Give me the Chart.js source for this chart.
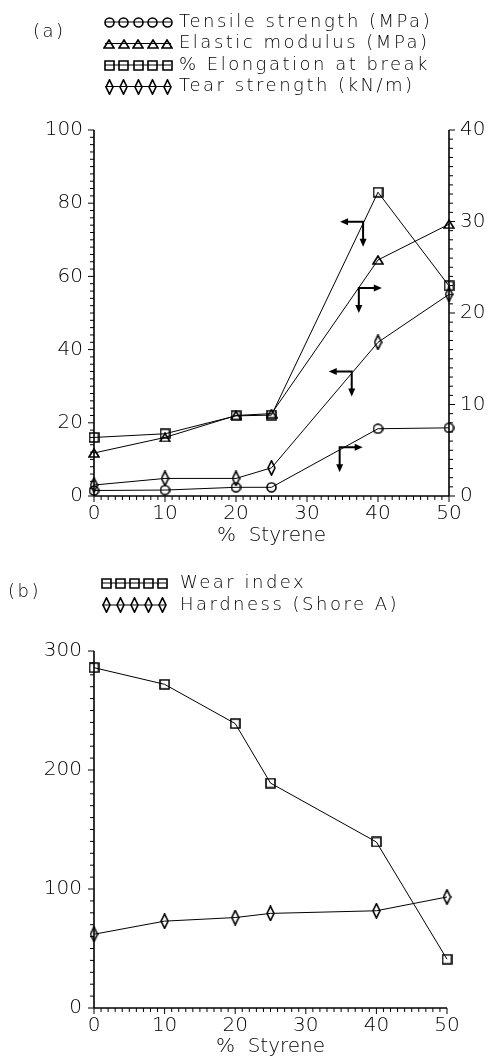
<!DOCTYPE html>
<html>
<head>
<meta charset="utf-8">
<script src="https://cdn.jsdelivr.net/npm/chart.js@4/dist/chart.umd.min.js"></script>
<style>
  html, body { margin: 0; padding: 0; background: #fff; }
  #wrap { position: relative; width: 487px; height: 1057px; }
  canvas { position: absolute; left: 0; }
  #chartA { top: 0; }
  #chartB { top: 546px; }
</style>
</head>
<body>
<div id="wrap">
  <canvas id="chartA" width="487" height="546"></canvas>
  <canvas id="chartB" width="487" height="511"></canvas>
</div>
<script>
// values
const styrene = [0, 10, 20, 25, 40, 50];
const tensileStrength = [0.6, 0.65, 0.95, 0.95, 7.35, 7.45];   // right axis
const elasticModulus = [4.7, 6.4, 8.8, 9.0, 25.8, 29.7];       // right axis
const elongationAtBreak = [16.0, 17.0, 21.9, 22.1, 83.0, 57.4]; // left axis
const tearStrength = [3.0, 4.8, 4.8, 7.7, 42.0, 55.1];          // left axis
const wearIndex = [286, 272, 239, 189, 139.5, 41];
const hardness = [62, 73, 76, 79.5, 81.7, 93.3];

const xTicks = [0, 10, 20, 30, 40, 50];
const leftTicksA = [0, 20, 40, 60, 80, 100];
const rightTicksA = [0, 10, 20, 30, 40];
const leftTicksB = [0, 100, 200, 300];

const INK = '#000';
Chart.defaults.font.family = "'DejaVu Sans', sans-serif";
Chart.defaults.font.size = 20;
Chart.defaults.font.weight = 300;
Chart.defaults.color = INK;

// open markers, line shows through them
function makeMarker(kind) {
  let w = 11, h = 11;
  if (kind === 'diamond') { w = 9; h = 16; }
  if (kind === 'triangle') { w = 12; h = 10; }
  const c = document.createElement('canvas');
  c.width = w; c.height = h;
  const g = c.getContext('2d');
  g.strokeStyle = INK;
  g.lineWidth = 1.6;
  g.beginPath();
  if (kind === 'circle') g.arc(w / 2, h / 2, w / 2 - 1, 0, Math.PI * 2);
  else if (kind === 'square') g.rect(1, 1, w - 2, h - 2);
  else if (kind === 'triangle') { g.moveTo(w / 2, 1); g.lineTo(w - 1, h - 1); g.lineTo(1, h - 1); g.closePath(); }
  else { g.moveTo(w / 2, 0.8); g.lineTo(w - 1, h / 2); g.lineTo(w / 2, h - 0.8); g.lineTo(1, h / 2); g.closePath(); }
  g.stroke();
  return c;
}
const mk = {};
['circle', 'triangle', 'square', 'diamond'].forEach(k => { mk[k] = makeMarker(k); });

function series(label, values, axis, kind) {
  return {
    label: label,
    yAxisID: axis,
    data: styrene.map((x, i) => ({ x: x, y: values[i] })),
    borderColor: INK,
    borderWidth: 1,
    pointStyle: mk[kind],
    pointRadius: 6,
    tension: 0,
    fill: false,
    clip: false
  };
}

function fixedTicks(list) {
  return s => { s.ticks = list.map(v => ({ value: v })); };
}

// legend: a line with five markers, then the label
const symLegend = {
  id: 'symLegend',
  afterDraw(chart, args, o) {
    const ctx = chart.ctx;
    ctx.save();
    ctx.font = '300 18px "DejaVu Sans"';
    ctx.letterSpacing = '2.5px';
    ctx.fillStyle = INK;
    ctx.strokeStyle = INK;
    ctx.lineWidth = 1;
    ctx.textBaseline = 'middle';
    ctx.fillText(o.tag, o.tagX, o.tagY);
    o.items.forEach((it, i) => {
      const y = o.y0 + i * o.dy;
      ctx.beginPath();
      ctx.moveTo(o.x0, y);
      ctx.lineTo(o.x1, y);
      ctx.stroke();
      const img = mk[it.kind];
      for (let k = 0; k < 5; k++) {
        const mx = o.x0 + 4 + k * (o.x1 - o.x0 - 8) / 4;
        ctx.drawImage(img, Math.round(mx - img.width / 2), Math.round(y - img.height / 2));
      }
      ctx.fillText(it.label, o.textX, y);
    });
    ctx.restore();
  }
};

// axis lines with outward major/minor ticks
const frame = {
  id: 'frame',
  afterDraw(chart, args, o) {
    const ctx = chart.ctx, a = chart.chartArea;
    ctx.save();
    ctx.strokeStyle = INK;
    o.axes.forEach(ax => {
      const sc = chart.scales[ax.id];
      ctx.lineWidth = 1.6;
      ctx.beginPath();
      if (ax.side === 'bottom') {
        ctx.moveTo(a.left, a.bottom); ctx.lineTo(a.right, a.bottom);
      } else {
        const x = ax.side === 'left' ? a.left : a.right;
        ctx.moveTo(x, a.bottom); ctx.lineTo(x, sc.getPixelForValue(sc.max));
      }
      ctx.stroke();
      ctx.lineWidth = 1;
      for (let v = sc.min; v <= sc.max + 1e-9; v += ax.minor) {
        const q = v / ax.major;
        const len = Math.abs(q - Math.round(q)) < 1e-6 ? 6 : 4;
        const p = sc.getPixelForValue(v);
        ctx.beginPath();
        if (ax.side === 'bottom') { ctx.moveTo(p, a.bottom); ctx.lineTo(p, a.bottom + len); }
        else if (ax.side === 'left') { ctx.moveTo(a.left, p); ctx.lineTo(a.left - len, p); }
        else { ctx.moveTo(a.right, p); ctx.lineTo(a.right + len, p); }
        ctx.stroke();
      }
    });
    ctx.restore();
  }
};

// axis-pointer arrows (in styrene / left-axis units)
const arrowNotes = [
  { x: 37.9, y: 74.9, side: 'left' },
  { x: 37.3, y: 56.8, side: 'right' },
  { x: 36.3, y: 34.0, side: 'left' },
  { x: 34.6, y: 13.3, side: 'right' }
];
function arrowHead(ctx, x, y, dx, dy) {
  const L = 8, W = 3.5;
  ctx.beginPath();
  ctx.moveTo(x, y);
  ctx.lineTo(x - dx * L - dy * W, y - dy * L + dx * W);
  ctx.lineTo(x - dx * L + dy * W, y - dy * L - dx * W);
  ctx.closePath();
  ctx.fill();
}
const arrows = {
  id: 'arrows',
  afterDraw(chart, args, o) {
    if (!o.notes) return;
    const ctx = chart.ctx, xs = chart.scales.x, ys = chart.scales[o.axis];
    ctx.save();
    ctx.strokeStyle = INK; ctx.fillStyle = INK; ctx.lineWidth = 2;
    o.notes.forEach(n => {
      const cx = xs.getPixelForValue(n.x), cy = ys.getPixelForValue(n.y);
      const dir = n.side === 'left' ? -1 : 1;
      const hx = cx + dir * 23, vy = cy + 25;
      ctx.beginPath();
      ctx.moveTo(hx - dir * 4, cy); ctx.lineTo(cx, cy); ctx.lineTo(cx, vy - 4);
      ctx.stroke();
      arrowHead(ctx, hx, cy, dir, 0);
      arrowHead(ctx, cx, vy, 0, 1);
    });
    ctx.restore();
  }
};

function xScale() {
  return {
    type: 'linear', min: 0, max: 50,
    afterBuildTicks: fixedTicks(xTicks),
    grid: { display: false, drawTicks: false },
    border: { display: false },
    ticks: { padding: 6 },
    title: { display: true, text: '%  Styrene', padding: 0, font: { lineHeight: 1 } }
  };
}

new Chart(document.getElementById('chartA'), {
  type: 'line',
  data: {
    datasets: [
      series('Tensile strength (MPa)', tensileStrength, 'yR', 'circle'),
      series('Elastic modulus (MPa)', elasticModulus, 'yR', 'triangle'),
      series('% Elongation at break', elongationAtBreak, 'yL', 'square'),
      series('Tear strength (kN/m)', tearStrength, 'yL', 'diamond')
    ]
  },
  options: {
    responsive: false,
    animation: false,
    layout: { padding: { top: 130, left: 0, right: 0, bottom: 0 } },
    scales: {
      x: Object.assign(xScale(), { afterFit: s => { s.height = 50; } }),
      yL: {
        position: 'left', min: 0, max: 100,
        afterBuildTicks: fixedTicks(leftTicksA),
        afterFit: s => { s.width = 94; },
        grid: { display: false, drawTicks: false },
        border: { display: false },
        ticks: { padding: 11 }
      },
      yR: {
        position: 'right', min: 0, max: 40,
        afterBuildTicks: fixedTicks(rightTicksA),
        afterFit: s => { s.width = 38; },
        grid: { display: false, drawTicks: false },
        border: { display: false },
        ticks: { padding: 11 }
      }
    },
    plugins: {
      legend: { display: false },
      tooltip: { enabled: false },
      symLegend: {
        tag: '(a)', tagX: 33, tagY: 32,
        x0: 105, x1: 171, textX: 179, y0: 22, dy: 21.5,
        items: [
          { kind: 'circle', label: 'Tensile strength (MPa)' },
          { kind: 'triangle', label: 'Elastic modulus (MPa)' },
          { kind: 'square', label: '% Elongation at break' },
          { kind: 'diamond', label: 'Tear strength (kN/m)' }
        ]
      },
      frame: {
        axes: [
          { id: 'x', side: 'bottom', minor: 1, major: 10 },
          { id: 'yL', side: 'left', minor: 2, major: 20 },
          { id: 'yR', side: 'right', minor: 1, major: 10 }
        ]
      },
      arrows: { axis: 'yL', notes: arrowNotes }
    }
  },
  plugins: [symLegend, frame, arrows]
});

new Chart(document.getElementById('chartB'), {
  type: 'line',
  data: {
    datasets: [
      series('Wear index', wearIndex, 'yL', 'square'),
      series('Hardness (Shore A)', hardness, 'yL', 'diamond')
    ]
  },
  options: {
    responsive: false,
    animation: false,
    layout: { padding: { top: 105, left: 0, right: 40, bottom: 0 } },
    scales: {
      x: Object.assign(xScale(), { afterFit: s => { s.height = 49; } }),
      yL: {
        position: 'left', min: 0, max: 300,
        afterBuildTicks: fixedTicks(leftTicksB),
        afterFit: s => { s.width = 94; },
        grid: { display: false, drawTicks: false },
        border: { display: false },
        ticks: { padding: 12 }
      }
    },
    plugins: {
      legend: { display: false },
      tooltip: { enabled: false },
      symLegend: {
        tag: '(b)', tagX: 8, tagY: 46,
        x0: 102, x1: 166, textX: 180, y0: 37, dy: 22,
        items: [
          { kind: 'square', label: 'Wear index' },
          { kind: 'diamond', label: 'Hardness (Shore A)' }
        ]
      },
      frame: {
        axes: [
          { id: 'x', side: 'bottom', minor: 1, major: 10 },
          { id: 'yL', side: 'left', minor: 10, major: 100 }
        ]
      },
      arrows: {}
    }
  },
  plugins: [symLegend, frame, arrows]
});
</script>
</body>
</html>
